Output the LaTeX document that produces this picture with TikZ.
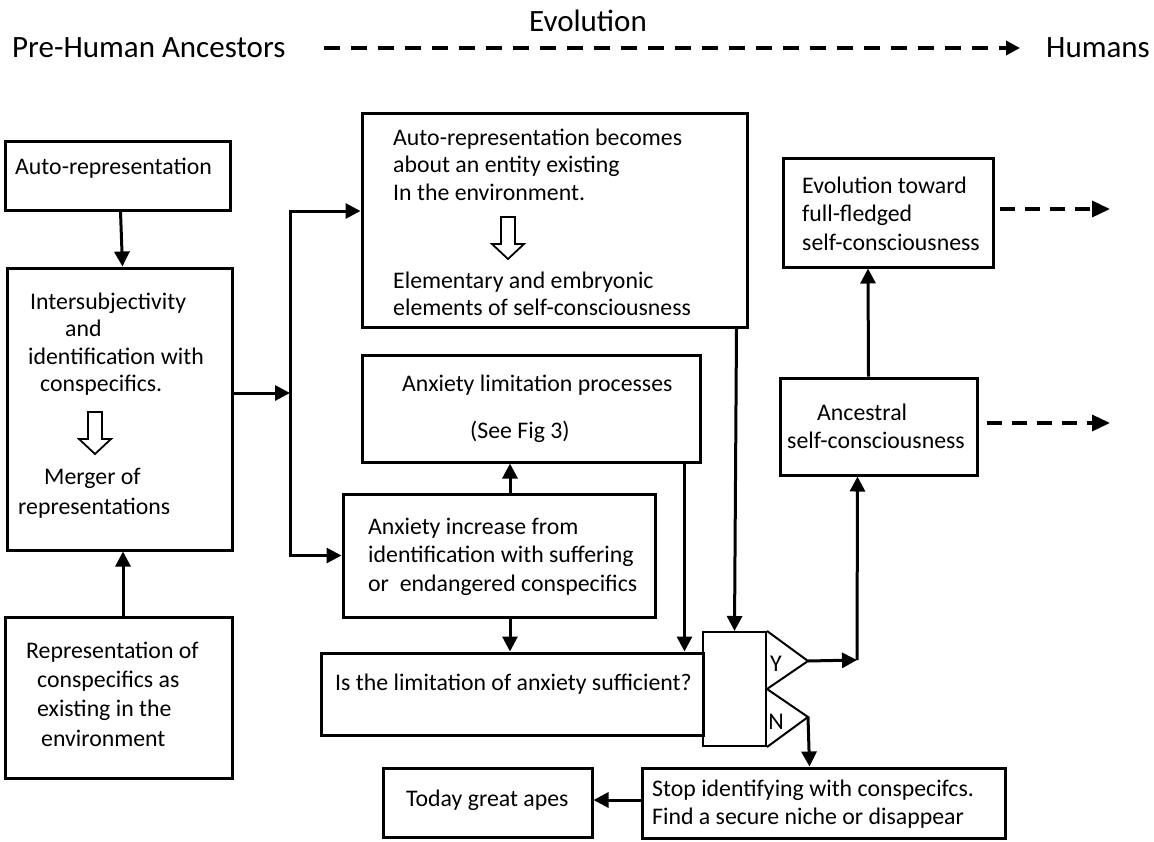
\documentclass[tikz,border=0pt]{standalone}
\usepackage{fontspec}
\setmainfont{Carlito}
\usetikzlibrary{arrows.meta}

\begin{document}
\begin{tikzpicture}[x=1pt,y=-1pt,
    >={Triangle[length=15pt,width=15pt]},
    box/.style={draw,line width=3pt,inner sep=0pt},
    txt/.style={inner sep=0pt,anchor=west,align=left,font=\fontsize{23.8}{#1}\selectfont},
    txt/.default=28,
    head/.style={inner sep=0pt,anchor=west,font=\fontsize{31}{36}\selectfont},
    link/.style={line width=3pt},
    gate/.style={line width=2pt},
    future/.style={line width=3.5pt,dash pattern=on 15pt off 10pt,-{Triangle[length=18pt,width=16pt]}},
    hollowdown/.pic={\draw[line width=1.8pt,fill=white] (-7,0) -- (7,0) -- (7,27) -- (16,27) -- (0,42) -- (-16,27) -- (-7,27) -- cycle;}]
  \useasboundingbox (0,0) rectangle (1154,841);

  % evolution line on top
  \node[head] (pre) at (12,48) {Pre-Human Ancestors};
  \node[head] (humans) at (1046,48) {Humans};
  \node[head,anchor=center] (evo) at (588,21) {Evolution};
  \draw[line width=4pt,dash pattern=on 16pt off 11pt,-{Triangle[length=14pt,width=14pt]}] ([xshift=38pt]pre.east) -- ([xshift=-26pt]humans.west);

  % left column
  \node[box,minimum width=225pt,minimum height=69pt] (autorep) at (117.5,175.5) {};
  \node[txt] (autorep-t) at (15,168) {Auto-representation};
  \node[box,minimum width=225pt,minimum height=282pt] (intersub) at (119.5,409) {};
  \node[txt=27.3] (intersub-t) at (28,344) {\hspace*{2pt}Intersubjectivity\\ \hspace*{37pt}and\\ identification with\\ \hspace*{12pt}conspecifics.};
  \pic at (95,412) {hollowdown};
  \node[txt=30] (merger-t) at (18,493) {\hspace*{26pt}Merger of\\ representations};
  \node[box,minimum width=227pt,minimum height=161pt] (repcon) at (118.5,697.5) {};
  \node[txt=29.3] (repcon-t) at (26,694) {Representation of\\ \hspace*{11pt}conspecifics as\\ \hspace*{11pt}existing in the\\ \hspace*{15pt}environment};

  % middle column
  \node[box,minimum width=385pt,minimum height=214pt] (selfenv) at (554.5,220) {};
  \node[txt=27.5] (selfenv-t) at (393,164.5) {Auto-representation becomes\\ about an entity existing\\ In the environment.};
  \pic at (508,217) {hollowdown};
  \node[txt=27] (embryo-t) at (393,293.5) {Elementary and embryonic\\ elements of self-consciousness};
  \node[box,minimum width=338pt,minimum height=107pt] (limit) at (531,408.5) {};
  \node[txt=47] (limit-t) at (402,408.5) {Anxiety limitation processes\\ \hspace*{68pt}(See Fig 3)};
  \node[box,minimum width=312pt,minimum height=123pt] (incr) at (499,555.5) {};
  \node[txt=28.5] (incr-t) at (368,556.5) {Anxiety increase from\\ identification with suffering\\ or~ endangered conspecifics};
  \node[box,minimum width=382pt,minimum height=82pt] (query) at (512,694) {};
  \node[txt] (query-t) at (335,684) {Is the limitation of anxiety sufficient?};

  % yes / no gate
  \node[draw,gate,inner sep=0pt,minimum width=63pt,minimum height=114pt] (decide) at (734.5,689) {};
  \coordinate (yes) at (808,661);
  \coordinate (no) at (808,717);
  \draw[gate,line join=miter] (decide.north east) -- (yes) -- (decide.east) -- (no) -- (decide.south east);
  \node[inner sep=0pt,font=\fontsize{24}{28}\selectfont] (ylabel) at (776,664) {Y};
  \node[inner sep=0pt,font=\fontsize{24}{28}\selectfont] (nlabel) at (776,722) {N};

  % right column
  \node[box,minimum width=210pt,minimum height=109pt] (evolve) at (888,212.5) {};
  \node[txt=28.5] (evolve-t) at (802,213.5) {Evolution toward\\ full-fledged\\ self-consciousness};
  \node[box,minimum width=197pt,minimum height=97pt] (ancestral) at (878.5,426.5) {};
  \node[txt] (ancestral-t) at (787,426) {\hspace*{30pt}Ancestral\\ self-consciousness};
  \node[box,minimum width=363pt,minimum height=70pt] (stop) at (823.5,803) {};
  \node[txt] (stop-t) at (652,804) {Stop identifying with conspecifcs.\\ Find a secure niche or disappear};
  \node[box,minimum width=209pt,minimum height=69pt] (apes) at (487.5,802.5) {};
  \node[txt] (apes-t) at (406,800) {Today great apes};

  \coordinate (fork) at (290,393);
  \coordinate (turn) at (857,660);
  \coordinate (futureA) at (1110,209);
  \coordinate (futureB) at (1110,423);

  % connectors
  \draw[link,->] ([xshift=3pt]autorep.south) -- ([xshift=3pt]intersub.north);
  \draw[link,->] ([xshift=4.5pt]repcon.north) -- ([xshift=3.5pt]intersub.south);
  \draw[link,->] ([yshift=16pt]intersub.east) -- (fork);
  \draw[link,->] (fork) |- ([yshift=9pt]selfenv.west);
  \draw[link,->] (fork) |- (incr.west);
  \draw[link,->] ([xshift=11pt]incr.north) -- ([xshift=-21pt]limit.south);
  \draw[link,->] ([xshift=11pt]incr.south) -- ([xshift=-2pt]query.north);
  \draw[link,->] ([xshift=-17pt]limit.south east) -- ([xshift=-20pt]query.north east);
  \draw[link,->] ([xshift=-12pt]selfenv.south east) -- (decide.north);
  \draw[link,->] (yes) -- (turn);
  \draw[link,->] (turn) -- ([xshift=-21pt]ancestral.south);
  \draw[link,->] ([xshift=-10pt]ancestral.north) -- ([xshift=-20pt]evolve.south);
  \draw[link,->] (no) -- ([xshift=-14pt]stop.north);
  \draw[link,->] ([yshift=3pt]stop.west) -- ([yshift=2.5pt]apes.east);
  \draw[future] ([xshift=5pt,yshift=3.5pt]evolve.east) -- (futureA);
  \draw[future] ([xshift=8pt,yshift=3.5pt]ancestral.east) -- (futureB);
\end{tikzpicture}
\end{document}
